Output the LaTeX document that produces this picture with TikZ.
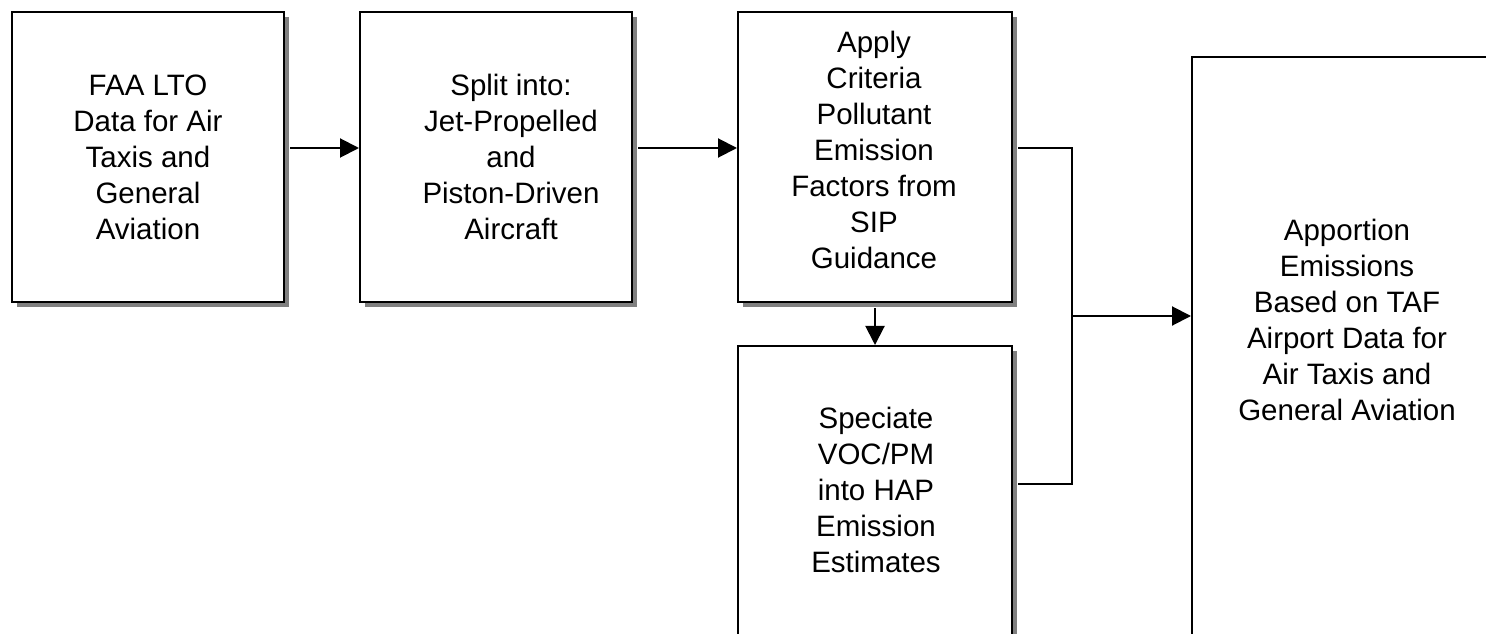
\documentclass[tikz,border=0pt]{standalone}
\usepackage{fontspec}
\setmainfont{Liberation Sans}
\usetikzlibrary{arrows.meta,shadows}
\newcommand\boxfont{\fontsize{29.6}{36.2}\selectfont}
\tikzset{
  stepbox/.style={draw, line width=2bp, fill=white, inner sep=0pt, align=center, font=\boxfont,
    drop shadow={shadow xshift=5bp, shadow yshift=-5bp, fill=black!50, opacity=1}},
  plainbox/.style={draw, line width=2bp, fill=white, inner sep=0pt},
  conn/.style={line width=2bp},
  arr/.style={line width=2bp, -{Triangle[length=19bp,width=19bp]}},
  lbl/.style={align=center, font=\boxfont, inner sep=0pt}
}
\begin{document}
\begin{tikzpicture}[x=1bp,y=-1bp]
\useasboundingbox (0,0) rectangle (1486,634);
\clip (0,0) rectangle (1486,634);
\node[stepbox, minimum width=272bp, minimum height=290bp] (b1) at (148,157)
  {FAA LTO\\Data for Air\\Taxis and\\General\\Aviation};
\node[stepbox, minimum width=272bp, minimum height=290bp] (b2) at (496,157) {};
\node[lbl] (t2) at (511,157) {Split into:\\Jet-Propelled\\and\\Piston-Driven\\Aircraft};
\node[stepbox, minimum width=274bp, minimum height=290bp] (b3) at (875,157) {};
\node[lbl] (t3) at (874,150) {Apply\\Criteria\\Pollutant\\Emission\\Factors from\\SIP\\Guidance};
\node[stepbox, minimum width=274bp, minimum height=298bp] (b4) at (875,495) {};
\node[lbl] (t4) at (876,490) {Speciate\\VOC/PM\\into HAP\\Emission\\Estimates};
\node[plainbox, minimum width=340bp, minimum height=640bp] (b5) at (1362,377) {};
\node[lbl] (t5) at (1347,320) {Apportion\\Emissions\\Based on TAF\\Airport Data for\\Air Taxis and\\General Aviation};
\coordinate (j) at (1072,316);
\coordinate (jb) at (1072,484);
\draw[arr] ([xshift=5bp,yshift=9bp]b1.east) -- ([yshift=9bp]b2.west);
\draw[arr] ([xshift=5bp,yshift=9bp]b2.east) -- ([yshift=9bp]b3.west);
\draw[arr] ([yshift=-5bp]b3.south) -- (b4.north);
\draw[conn] ([xshift=5bp,yshift=9bp]b3.east) -| (jb) -- ([xshift=5bp]b4.east |- jb);
\draw[arr] (j) -- (b5.west |- j);
\end{tikzpicture}
\end{document}
